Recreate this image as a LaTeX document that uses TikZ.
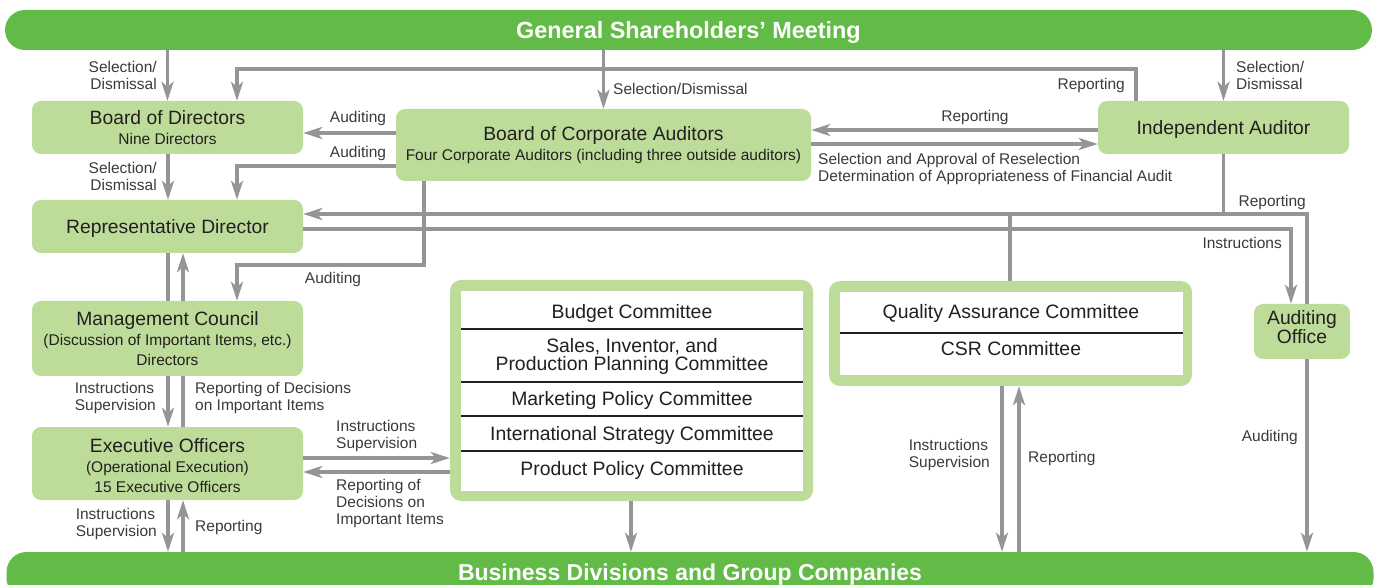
\documentclass[tikz,border=0pt]{standalone}
\usepackage{fontspec}
\setmainfont{Liberation Sans}
\usetikzlibrary{arrows.meta,calc}
\definecolor{dgreen}{HTML}{62BB47}
\definecolor{lgreen}{HTML}{BDDC9A}
\definecolor{lgrey}{HTML}{939598}
\definecolor{txt}{HTML}{231F20}
\definecolor{labc}{HTML}{3A3A3A}
\newcommand{\ttlf}{\fontsize{19.3}{21}\selectfont}
\begin{document}
\begin{tikzpicture}[x=1pt,y=-1pt,
  banner/.style={fill=dgreen, rounded corners=20pt, minimum width=1367pt, inner sep=0pt, text=white, font=\fontsize{23.4}{26}\selectfont\bfseries},
  box/.style={fill=lgreen, rounded corners=9pt, inner sep=0pt, align=center, text=txt, font=\fontsize{15.5}{20.5}\selectfont},
  btext/.style={inner sep=0pt, align=center, text=txt, font=\fontsize{15.5}{20}\selectfont},
  frame/.style={fill=lgreen, rounded corners=11pt, inner sep=0pt},
  ctext/.style={text=txt, font=\fontsize{19.4}{18}\selectfont, align=center, inner sep=0pt},
  lab/.style={text=labc, font=\fontsize{15.5}{17}\selectfont, inner sep=0pt},
  lab1/.style={lab, text depth=0pt},
  con/.style={draw=lgrey, line width=3.5pt},
  arr/.style={con, -{Stealth[length=19pt,width=12pt,inset=5pt]}},
  divline/.style={draw=txt, line width=1.2pt}
]
\useasboundingbox (0,0) rectangle (1377,585);

% banners
\node[banner, minimum height=40pt, text depth=0pt] (gsm) at (688.5,30) {General Shareholders’ Meeting};
\node[banner, minimum height=46pt, font=\fontsize{23}{26}\selectfont\bfseries] (bd) at (690,575) {\raisebox{2.5pt}{Business Divisions and Group Companies}};

% boxes
\node[box, minimum width=271pt, minimum height=53pt] (bod) at (167.5,127.5) {{\ttlf Board of Directors}\\Nine Directors};
\node[box, minimum width=271pt, minimum height=53pt, text depth=0pt] (rd) at (167.5,226.5) {{\ttlf Representative Director}};
\node[box, minimum width=271pt, minimum height=75pt, font=\fontsize{15.5}{20}\selectfont] (mc) at (167.5,338.5) {{\ttlf Management Council}\\(Discussion of Important Items, etc.)\\Directors};
\node[box, minimum width=271pt, minimum height=73pt] (eo) at (167.5,463.5) {};
\node[btext] (eot) at (167.5,465.5) {{\ttlf Executive Officers}\\(Operational Execution)\\15 Executive Officers};
\node[box, minimum width=415pt, minimum height=72pt] (bca) at (603.5,145) {{\ttlf Board of Corporate Auditors}\\Four Corporate Auditors (including three outside auditors)};
\node[box, minimum width=251pt, minimum height=53pt, text depth=0pt] (ia) at (1223.5,127.5) {{\ttlf Independent Auditor}};
\node[box, minimum width=96pt, minimum height=55pt] (ao) at (1302,331.5) {};
\node[btext, font=\fontsize{19.3}{19}\selectfont] (aot) at (1302,327.5) {Auditing\\Office};

% committee frames
\node[frame, minimum width=363pt, minimum height=221pt] (com) at (631.5,390.5) {};
\fill[white] ($(com.north west)+(11,11)$) rectangle ($(com.south east)+(-10,-10)$);
\draw[divline] (461,329) -- (803,329);
\draw[divline] (461,382) -- (803,382);
\draw[divline] (461,416) -- (803,416);
\draw[divline] (461,451) -- (803,451);
\node[ctext] (c1) at (632,313) {Budget Committee};
\node[ctext] (c2) at (632,356.5) {Sales, Inventor, and\\Production Planning Committee};
\node[ctext] (c3) at (632,400) {Marketing Policy Committee};
\node[ctext] (c4) at (632,435) {International Strategy Committee};
\node[ctext] (c5) at (632,470) {Product Policy Committee};

\node[frame, minimum width=363pt, minimum height=105pt] (qac) at (1010.5,333.5) {};
\fill[white] ($(qac.north west)+(11,11)$) rectangle ($(qac.south east)+(-9,-11)$);
\draw[divline] (840,333) -- (1183,333);
\node[ctext] (q1) at (1011,313) {Quality Assurance Committee};
\node[ctext] (q2) at (1011,348.5) {CSR Committee};

% connectors from the General Shareholders' Meeting
\draw[arr] (bod.north |- gsm.south) -- (bod.north);
\draw[arr] (bca.north |- gsm.south) -- (bca.north);
\draw[arr] (ia.north |- gsm.south) -- (ia.north);
\node[lab, anchor=east, align=right] (l1) at (157,75.5) {Selection/\\Dismissal};
\node[lab1, anchor=west] (l2) at (613,88.5) {Selection/Dismissal};
\node[lab, anchor=west, align=left] (l3) at (1236,75.5) {Selection/\\Dismissal};

% independent auditor reporting to board of directors
\draw[arr] ($(ia.north west)+(38,0)$) -- ++(0,-32) -| (bod.north -| 237,0);
\node[lab1, anchor=east] (l4) at (1125,84) {Reporting};

% corporate auditors auditing
\draw[arr] (bca.west |- 0,133) -- (bod.east |- 0,133);
\node[lab1] (l5) at (358,117) {Auditing};
\draw[arr] (bca.west |- 0,166) -| (rd.north -| 237,0);
\node[lab1] (l6) at (358,152) {Auditing};
\draw[arr] (bca.south -| 424,0) |- (237,265) -- (mc.north -| 237,0);
\node[lab1] (l7) at (333,277.5) {Auditing};

% corporate auditors <-> independent auditor
\draw[arr] (ia.west |- 0,130) -- (bca.east |- 0,130);
\node[lab1] (l8) at (975,116) {Reporting};
\draw[arr] (bca.east |- 0,144) -- (ia.west |- 0,144);
\node[lab, anchor=west, align=left] (l9) at (818,168.5) {Selection and Approval of Reselection\\Determination of Appropriateness of Financial Audit};

% reporting line to representative director
\draw[arr] (ao.north -| 1307,0) |- (rd.east |- 0,214);
\draw[con] (ia.south) -- (ia.south |- 0,214);
\draw[con] (qac.north -| 1010,0) -- (1010,214);
\node[lab1, anchor=east] (l10) at (1306,201) {Reporting};

% instructions to auditing office
\draw[arr] (rd.east |- 0,229) -| (ao.north -| 1291,0);
\node[lab1, anchor=east] (l11) at (1282,243) {Instructions};

% auditing office auditing
\draw[arr] (ao.south -| 1307,0) -- (bd.north -| 1307,0);
\node[lab1, anchor=east] (l12) at (1298,436) {Auditing};

% left column
\draw[arr] (bod.south -| 168,0) -- (rd.north -| 168,0);
\node[lab, anchor=east, align=right] (l13) at (157,176.5) {Selection/\\Dismissal};
\draw[con] (rd.south -| 168,0) -- (mc.north -| 168,0);
\draw[arr] (mc.north -| 183,0) -- (rd.south -| 183,0);
\draw[arr] (mc.south -| 168,0) -- (eo.north -| 168,0);
\draw[con] (eo.north -| 183,0) -- (mc.south -| 183,0);
\node[lab, anchor=east, align=left] (l14) at (156,398) {Instructions\\Supervision};
\node[lab, anchor=west, align=left] (l15) at (195,398) {Reporting of Decisions\\on Important Items};
\draw[arr] (eo.south -| 168,0) -- (bd.north -| 168,0);
\draw[arr] (bd.north -| 183,0) -- (eo.south -| 183,0);
\node[lab, anchor=east, align=left] (l16) at (157,523.5) {Instructions\\Supervision};
\node[lab1, anchor=west] (l17) at (195,525.5) {Reporting};

% executive officers <-> committees
\draw[arr] (eo.east |- 0,458) -- (com.west |- 0,458);
\draw[arr] (com.west |- 0,472) -- (eo.east |- 0,472);
\node[lab, anchor=west, align=left] (l18) at (336,435.5) {Instructions\\Supervision};
\node[lab, anchor=west, align=left] (l19) at (336,503.5) {Reporting of\\Decisions on\\Important Items};

% committees -> business divisions
\draw[arr] (com.south -| 631,0) -- (bd.north -| 631,0);

% quality assurance / CSR <-> business divisions
\draw[arr] (qac.south -| 1002,0) -- (bd.north -| 1002,0);
\draw[arr] (bd.north -| 1019,0) -- (qac.south -| 1019,0);
\node[lab, anchor=east, align=left] (l20) at (990,454.5) {Instructions\\Supervision};
\node[lab1, anchor=west] (l21) at (1028,456.5) {Reporting};
\end{tikzpicture}
\end{document}
